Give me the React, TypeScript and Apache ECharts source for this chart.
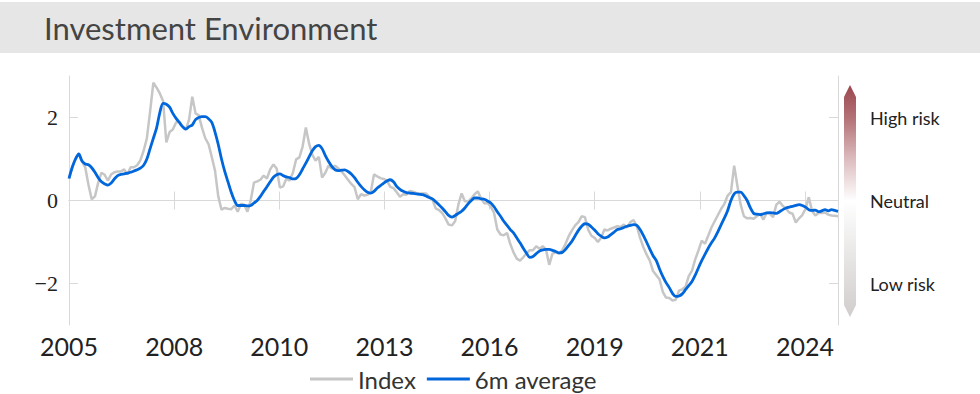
import React, { useEffect, useRef } from 'react';
import * as echarts from 'echarts';

const TITLE = 'Investment Environment';
const START_YEAR = 2005; // Jan 2005, monthly observations
const SERIES_NAMES = ['Index', '6m average'];

const indexValues = [
  0.53, 0.8, 1.0, 1.12, 0.95, 0.8, 0.38, 0.03, 0.1, 0.43,
  0.67, 0.62, 0.48, 0.63, 0.68, 0.7, 0.7, 0.75, 0.63, 0.8,
  0.8, 0.85, 0.97, 1.2, 1.5, 2.15, 2.84, 2.72, 2.58, 2.4,
  1.4, 1.65, 1.71, 1.88, 1.9, 1.78, 1.71, 1.95, 2.5, 2.1,
  2.05, 1.75, 1.5, 1.36, 1.05, 0.72, 0.1, -0.22, -0.18, -0.2,
  -0.21, -0.12, -0.27, -0.08, -0.1, -0.27, 0.0, 0.43, 0.46, 0.5,
  0.6, 0.53, 0.75, 0.87, 0.77, 0.31, 0.34, 0.53, 0.48, 0.67,
  0.99, 1.04, 1.3, 1.76, 1.37, 1.1, 0.96, 1.05, 0.55, 0.67,
  0.84, 0.77, 0.84, 0.77, 0.7, 0.6, 0.5, 0.4, 0.32, 0.03,
  0.15, 0.12, 0.14, 0.2, 0.63, 0.58, 0.54, 0.52, 0.48, 0.33,
  0.3, 0.2, 0.09, 0.15, 0.14, 0.23, 0.21, 0.18, 0.17, 0.17,
  0.17, 0.1, 0.02, -0.19, -0.23, -0.3, -0.43, -0.58, -0.6, -0.5,
  -0.1, 0.17, -0.02, -0.02, 0.05, 0.15, 0.22, 0.05, -0.07, -0.06,
  -0.15, -0.3, -0.7, -0.82, -0.84, -0.78, -1.05, -1.25, -1.4, -1.45,
  -1.37, -1.27, -1.2, -1.2, -1.1, -1.16, -1.1, -1.18, -1.55, -1.28,
  -1.25, -1.28, -1.2, -1.05, -0.86, -0.72, -0.6, -0.52, -0.38, -0.4,
  -0.7, -0.85, -0.9, -1.0, -0.9, -0.7, -0.72, -0.68, -0.65, -0.62,
  -0.64, -0.58, -0.65, -0.52, -0.47, -0.62, -0.9, -1.12, -1.3, -1.45,
  -1.7, -1.8, -1.9, -2.2, -2.34, -2.35, -2.41, -2.39, -2.17, -2.14,
  -2.08, -1.82, -1.69, -1.42, -1.2, -0.97, -1.04, -0.85, -0.65, -0.5,
  -0.35, -0.2, -0.08, 0.12, 0.2, 0.84, 0.35, -0.1, -0.38, -0.43,
  -0.42, -0.44, -0.38, -0.32, -0.46, -0.3, -0.32, -0.4, -0.1, -0.03,
  -0.13, -0.2, -0.29, -0.32, -0.53, -0.43, -0.35, -0.2, 0.08, -0.25,
  -0.36, -0.3, -0.3, -0.29, -0.34, -0.36, -0.37, -0.38,
];

const averageValues = [
  0.53, 0.8, 1.0, 1.12, 0.95, 0.88, 0.86, 0.79, 0.68, 0.55,
  0.45, 0.4, 0.37, 0.42, 0.52, 0.6, 0.63, 0.64, 0.66, 0.68,
  0.71, 0.74, 0.78, 0.85, 1.0, 1.25, 1.5, 1.75, 2.12, 2.34,
  2.32, 2.25, 2.1, 1.98, 1.88, 1.78, 1.72, 1.78, 1.82, 1.95,
  2.0, 2.02, 2.02, 1.97, 1.88, 1.65, 1.35, 1.0, 0.7, 0.45,
  0.2, 0.0, -0.12, -0.12, -0.12, -0.13, -0.12, -0.06, 0.0, 0.1,
  0.22, 0.33, 0.45, 0.56, 0.62, 0.64, 0.6, 0.57, 0.55, 0.52,
  0.53, 0.62, 0.76, 0.9, 1.05, 1.2, 1.3, 1.33, 1.25, 1.08,
  0.94, 0.82, 0.74, 0.72, 0.73, 0.74, 0.7, 0.64, 0.55, 0.44,
  0.34, 0.26, 0.2, 0.18, 0.22, 0.3, 0.36, 0.42, 0.47, 0.5,
  0.45, 0.34, 0.27, 0.22, 0.19, 0.18, 0.17, 0.16, 0.15, 0.14,
  0.11, 0.07, 0.04, -0.03, -0.1, -0.18, -0.27, -0.36, -0.4, -0.36,
  -0.31, -0.26, -0.18, -0.08, 0.0, 0.06, 0.06, 0.04, 0.03, -0.01,
  -0.06, -0.15, -0.27, -0.38, -0.5, -0.6, -0.7, -0.78, -0.9, -1.02,
  -1.15, -1.27, -1.37, -1.35, -1.28, -1.22, -1.19, -1.18, -1.18, -1.2,
  -1.23, -1.26, -1.25, -1.18, -1.08, -0.98, -0.85, -0.72, -0.62, -0.56,
  -0.57, -0.64, -0.71, -0.8, -0.86, -0.9, -0.88, -0.82, -0.76, -0.7,
  -0.68, -0.65, -0.62, -0.6, -0.58, -0.6, -0.7, -0.84, -1.0, -1.17,
  -1.33, -1.45, -1.65, -1.83, -1.98, -2.1, -2.24, -2.31, -2.3, -2.25,
  -2.15, -2.05, -1.95, -1.8, -1.62, -1.45, -1.3, -1.15, -1.02, -0.9,
  -0.75, -0.58, -0.42, -0.24, 0.0, 0.16, 0.2, 0.2, 0.12, 0.0,
  -0.18, -0.31, -0.33, -0.34, -0.32, -0.3, -0.29, -0.3, -0.31, -0.27,
  -0.22, -0.18, -0.16, -0.14, -0.12, -0.1, -0.12, -0.16, -0.22, -0.24,
  -0.23, -0.27, -0.25, -0.22, -0.25, -0.22, -0.24, -0.26,
];

// x tick positions (in decimal years) and y tick positions
const xTickValues = [2005, 2007.7, 2010.4, 2013.1, 2015.8, 2018.5, 2021.2, 2023.9];
const yTickValues = [-2, 0, 2];
const riskLabels: Record<string, string> = { '2': 'High risk', '0': 'Neutral', '-2': 'Low risk' };

const Y_MIN = -3;
const Y_MAX = 3;

const AXIS_COLOR = '#d9d9d9';
const GRAY = '#c6c6c6';
const BLUE = '#0066db';

export default function App() {
  const ref = useRef<HTMLDivElement>(null);

  useEffect(() => {
    if (!ref.current) return;
    const chart = echarts.init(ref.current, undefined, { renderer: 'svg' });

    const toPoints = (arr: number[]) => arr.map((v, i) => [START_YEAR + i / 12, v]);
    const xMax = START_YEAR + (indexValues.length - 1) / 12;

    const tickCommon = (values: number[]) => ({
      show: true,
      inside: true,
      length: 9,
      customValues: values,
      lineStyle: { color: AXIS_COLOR, width: 1 },
    });

    const option: any = {
      animation: false,
      backgroundColor: '#ffffff',
      grid: { left: 69, right: 142, top: 76, bottom: 69, containLabel: false },
      legend: {
        left: 305,
        top: 359,
        icon: 'rect',
        itemWidth: 43,
        itemHeight: 3,
        itemGap: 11,
        textStyle: { fontSize: 24, fontFamily: 'Lato', color: '#333333', lineHeight: 30 },
        data: SERIES_NAMES,
      },
      xAxis: [
        {
          type: 'value',
          position: 'bottom',
          min: START_YEAR,
          max: xMax,
          axisLine: { show: true, lineStyle: { color: AXIS_COLOR, width: 1 } },
          axisTick: tickCommon(xTickValues),
          axisLabel: {
            show: true,
            customValues: xTickValues,
            formatter: (v: number) => String(Math.round(v)),
            fontSize: 25,
            fontFamily: 'Lato',
            color: '#222222',
            margin: 8,
          },
          splitLine: { show: false },
        },
        {
          type: 'value',
          position: 'top',
          min: START_YEAR,
          max: xMax,
          axisLine: { show: true, lineStyle: { color: AXIS_COLOR, width: 1 } },
          axisTick: tickCommon(xTickValues),
          axisLabel: { show: false },
          splitLine: { show: false },
        },
      ],
      yAxis: [
        {
          type: 'value',
          position: 'left',
          min: Y_MIN,
          max: Y_MAX,
          axisLine: { show: true, lineStyle: { color: AXIS_COLOR, width: 1 } },
          axisTick: tickCommon(yTickValues),
          axisLabel: {
            show: true,
            customValues: yTickValues,
            formatter: (v: number) => (v < 0 ? '\u2212' + Math.abs(v) : String(v)),
            fontSize: 22,
            fontFamily: 'Liberation Serif',
            color: '#222222',
            margin: 11,
          },
          splitLine: { show: false },
        },
        {
          type: 'value',
          position: 'right',
          min: Y_MIN,
          max: Y_MAX,
          axisLine: { show: true, lineStyle: { color: AXIS_COLOR, width: 1 } },
          axisTick: tickCommon(yTickValues),
          axisLabel: {
            show: true,
            customValues: yTickValues,
            formatter: (v: number) => riskLabels[String(v)] ?? '',
            fontSize: 18,
            fontFamily: 'Lato',
            color: '#222222',
            margin: 32,
          },
          splitLine: { show: false },
        },
      ],
      graphic: [
        {
          type: 'rect',
          z: -10,
          shape: { x: 0, y: 2, width: 980, height: 51 },
          style: { fill: '#e6e6e6' },
          silent: true,
        },
        {
          type: 'text',
          x: 44,
          y: 28,
          style: {
            text: TITLE,
            fontSize: 31,
            fontFamily: 'Lato',
            fill: '#444444',
            verticalAlign: 'middle',
            align: 'left',
          },
          silent: true,
        },
        {
          type: 'polygon',
          shape: {
            points: [
              [850, 85],
              [856, 97],
              [856, 305],
              [850, 317],
              [844, 305],
              [844, 97],
            ],
          },
          style: {
            fill: new echarts.graphic.LinearGradient(0, 0, 0, 1, [
              { offset: 0, color: '#9a474d' },
              { offset: 0.15, color: '#b57479' },
              { offset: 0.32, color: '#dcbcbe' },
              { offset: 0.5, color: '#ffffff' },
              { offset: 0.75, color: '#e7e5e4' },
              { offset: 1, color: '#d0cdcc' },
            ]),
          },
          silent: true,
        },
      ],
      series: [
        {
          name: SERIES_NAMES[0],
          type: 'line',
          xAxisIndex: 0,
          yAxisIndex: 0,
          data: toPoints(indexValues),
          symbol: 'none',
          lineStyle: { color: GRAY, width: 2.5 },
          itemStyle: { color: GRAY },
          z: 2,
        },
        {
          name: SERIES_NAMES[1],
          type: 'line',
          xAxisIndex: 0,
          yAxisIndex: 0,
          data: toPoints(averageValues),
          symbol: 'none',
          smooth: 0.3,
          lineStyle: { color: BLUE, width: 2.8 },
          itemStyle: { color: BLUE },
          z: 3,
        },
      ],
    };

    chart.setOption(option);
    return () => chart.dispose();
  }, []);

  return (
    <div
      ref={ref}
      style={{ position: 'absolute', left: 0, top: 0, width: 980, height: 394 }}
    />
  );
}
